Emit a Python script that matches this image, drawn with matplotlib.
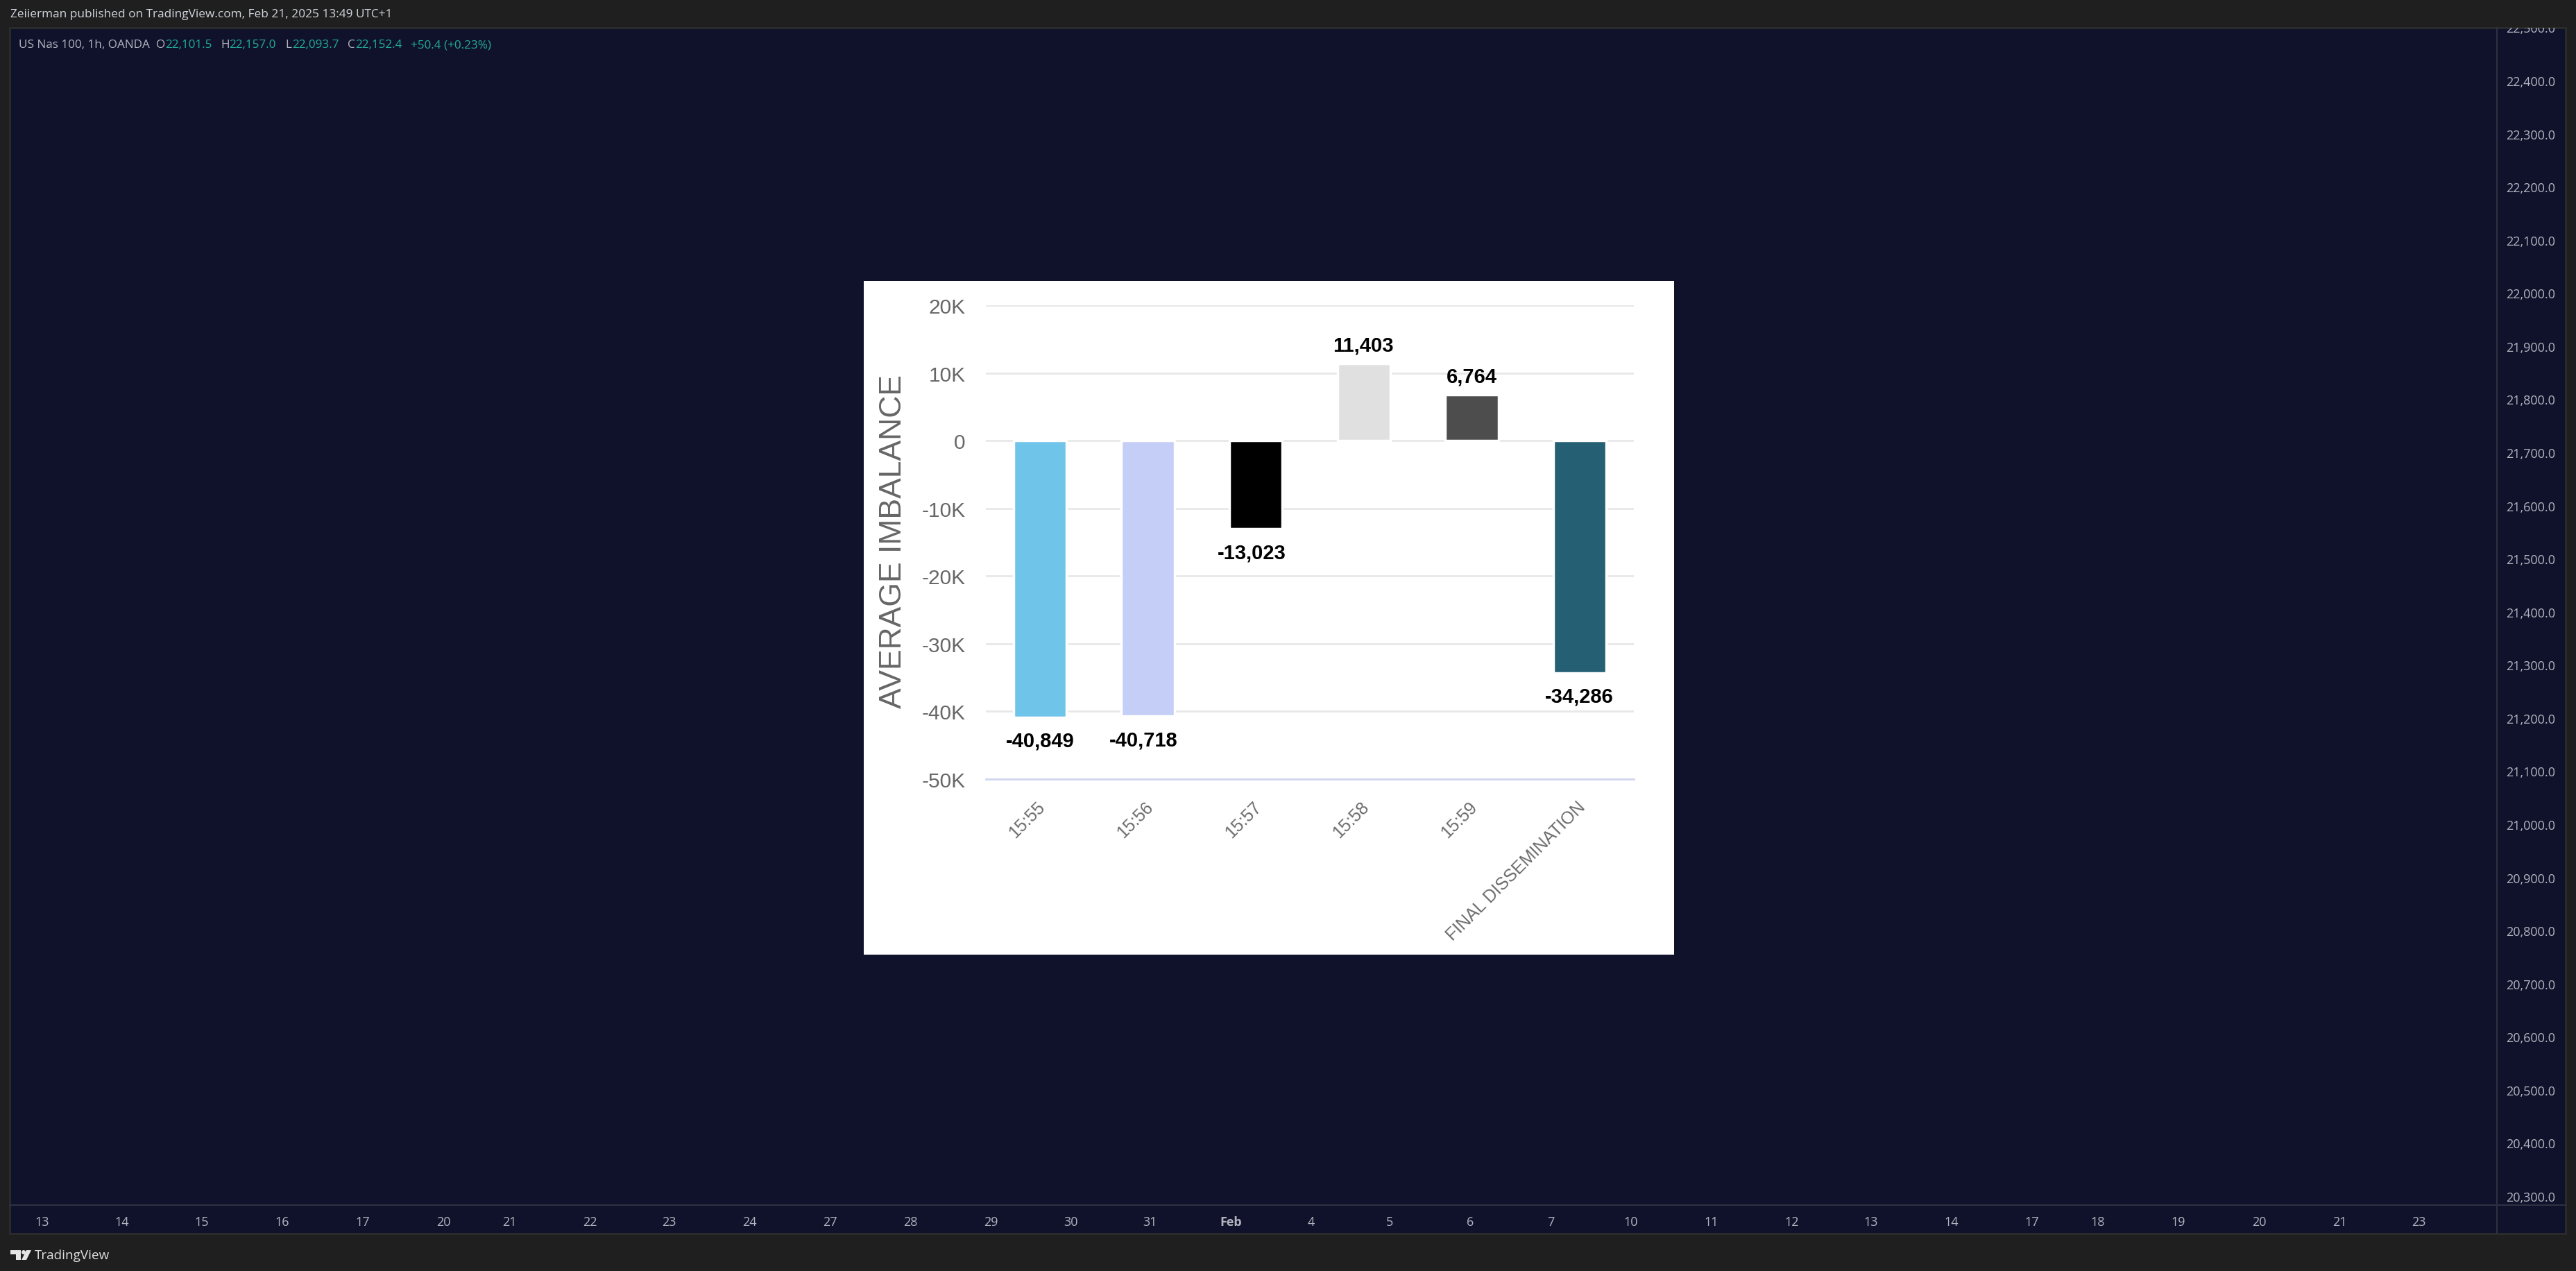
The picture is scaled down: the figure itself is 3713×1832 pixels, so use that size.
import matplotlib
matplotlib.use("Agg")
import matplotlib.pyplot as plt
from matplotlib.patches import Rectangle, Polygon, Circle
from matplotlib.ticker import FuncFormatter
from matplotlib.transforms import ScaledTranslation

W, H = 3713, 1833
BG = "#10122c"; FRAME = "#1f1f1f"; LINE = "#2e3042"; TXT = "#b2b5be"; TEAL = "#22ab94"

categories = ["15:55", "15:56", "15:57", "15:58", "15:59", "FINAL DISSEMINATION"]
imbalance = [-40849, -40718, -13023, 11403, 6764, -34286]
bar_colors = ["#6fc4ea", "#c5cef7", "#000000", "#e0e0e0", "#4d4d4d", "#245f73"]
y_ticks = [20000, 10000, 0, -10000, -20000, -30000, -40000, -50000]
price_labels = ["22,500.0", "22,400.0", "22,300.0", "22,200.0", "22,100.0", "22,000.0", "21,900.0", "21,800.0",
                "21,700.0", "21,600.0", "21,500.0", "21,400.0", "21,300.0", "21,200.0", "21,100.0", "21,000.0",
                "20,900.0", "20,800.0", "20,700.0", "20,600.0", "20,500.0", "20,400.0", "20,300.0"]
date_labels = ["13", "14", "15", "16", "17", "20", "21", "22", "23", "24", "27", "28", "29", "30", "31", "Feb",
               "4", "5", "6", "7", "10", "11", "12", "13", "14", "17", "18", "19", "20", "21", "23"]
date_pos = [61, 176, 291, 407, 523, 639, 734, 850, 964, 1080, 1196, 1312, 1428, 1544, 1658, 1774,
            1890, 2003, 2119, 2235, 2351, 2467, 2583, 2697, 2813, 2929, 3024, 3140, 3256, 3372, 3486]
label_dx = [0, -4.3, -4.3, -1, 0, -1]

fig = plt.figure(figsize=(W / 100, H / 100), dpi=100, facecolor=FRAME)
bg = fig.add_axes([0, 0, 1, 1])
bg.set_xlim(0, W); bg.set_ylim(H, 0); bg.axis("off")

UI = "Open Sans"
panel = Rectangle((14, 41), 3698 - 14, 1779 - 41, fc=BG, ec="#2c2c2c", lw=2)
bg.add_patch(panel)
bg.plot([3599, 3599], [41, 1779], color=LINE, lw=1.5)
bg.plot([14, 3698], [1738, 1738], color=LINE, lw=1.5)

bg.text(15, 21, "Zeiierman published on TradingView.com, Feb 21, 2025 13:49 UTC+1",
        color="#d1d4dc", fontsize=12.4, family=UI, va="center", ha="left", fontweight="medium")

legend = [(27, "US Nas 100, 1h, OANDA", TXT), (224.5, "O", TXT), (238, "22,101.5", TEAL), (318, "H", TXT),
          (330, "22,157.0", TEAL), (411, "L", TXT), (421, "22,093.7", TEAL), (500.5, "C", TXT),
          (512, "22,152.4", TEAL), (592, "+50.4 (+0.23%)", TEAL)]
for x, s, c in legend:
    bg.text(x, 65, s, color=c, fontsize=12.3, family=UI, va="center", ha="left")

for i, s in enumerate(price_labels):
    y = 119 + (i - 1) * 76.57
    t = bg.text(3648, y, s, color=TXT, fontsize=13, family=UI, va="center", ha="center", clip_on=True)
    t.set_clip_path(panel)
for x, s in zip(date_pos, date_labels):
    bg.text(x, 1762, s, color=TXT, fontsize=13, family=UI, va="center", ha="center",
            fontweight="bold" if s == "Feb" else "normal")

# TradingView logo
bg.add_patch(Polygon([(15, 1803), (30, 1803), (30, 1817), (23, 1817), (23, 1809), (15, 1809)], fc="#e6e6e6"))
bg.add_patch(Circle((34, 1806), 3, fc="#e6e6e6"))
bg.add_patch(Polygon([(38, 1803), (45, 1803), (38, 1817), (31, 1817)], fc="#e6e6e6"))
bg.text(50, 1810, "TradingView", color="#e0e0e0", fontsize=13.6, family=UI, va="center", ha="left")

# Embedded chart card
bg.add_patch(Rectangle((1245, 406), 2413 - 1245, 971, fc="white", ec="none", zorder=3))

x0, x1, ytop, ybot = 1421, 2355, 441, 1124
ax = fig.add_axes([x0 / W, 1 - ybot / H, (x1 - x0) / W, (ybot - ytop) / H], facecolor="none", zorder=5)
ax.set_xlim(-0.5, 5.5)
ax.set_ylim(-50000, 20000)
FONT = "Liberation Sans"

ax.bar(range(len(categories)), imbalance, width=0.49, color=bar_colors, edgecolor="white", linewidth=2.5, zorder=3)
ax.set_yticks(y_ticks)
ax.yaxis.set_major_formatter(FuncFormatter(lambda v, _: "0" if v == 0 else f"{int(v / 1000)}K"))
ax.set_xticks(range(len(categories)))
ax.set_xticklabels(categories, rotation=45, ha="right", va="top", rotation_mode="anchor",
                   fontsize=18, family=FONT, color="#6b6b6b")
ax.tick_params(axis="both", length=0)
ax.tick_params(axis="x", pad=20)
ax.tick_params(axis="y", pad=21)
shift = ScaledTranslation(-4.7 / 100, 0, fig.dpi_scale_trans)
for t in ax.get_xticklabels():
    t.set_transform(t.get_transform() + shift)
for t in ax.get_yticklabels():
    t.set(fontsize=21.5, family=FONT, color="#666666")
ax.grid(axis="y", color="#e8e8e8", lw=2, zorder=1)
ax.set_axisbelow(True)
for s in ax.spines.values():
    s.set_visible(False)
ax.spines["bottom"].set_visible(True)
ax.spines["bottom"].set_color("#d0d6f0")
ax.spines["bottom"].set_linewidth(2)

for i, v in enumerate(imbalance):
    ax.annotate(f"{v:,}", (i, v), xytext=(label_dx[i], 19 if v > 0 else -24.5), textcoords="offset points",
                ha="center", va="center", fontsize=21, fontweight="bold", family=FONT, color="black", zorder=6)

fig.text(1287 / W, 1 - 781 / H, "AVERAGE IMBALANCE", rotation=90, ha="center", va="center",
         fontsize=32, family=FONT, color="#666666", zorder=6)

fig.savefig("out.png", dpi=100, facecolor=FRAME)
